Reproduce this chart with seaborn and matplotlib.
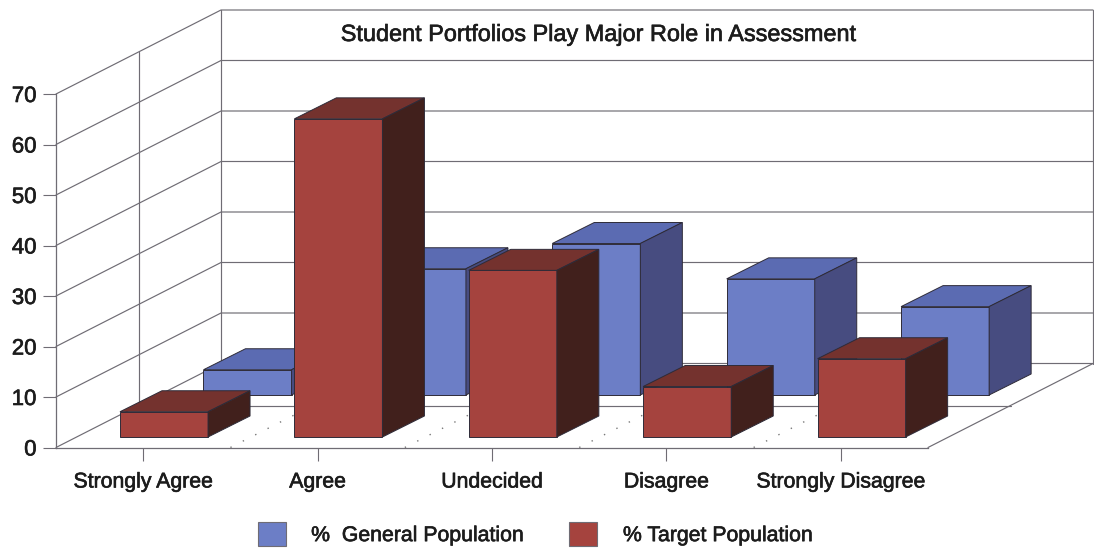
import matplotlib
matplotlib.use("Agg")
import matplotlib.pyplot as plt
import matplotlib.patheffects as pe
import seaborn as sns
from matplotlib.patches import Patch, Polygon
from matplotlib.transforms import Affine2D, IdentityTransform

title = "Student Portfolios Play Major Role in Assessment"
categories = ["Strongly Agree", "Agree", "Undecided", "Disagree", "Strongly Disagree"]
general_population = [5, 25, 30, 23, 17.5]
target_population = [5, 63, 33, 10, 15.5]
y_ticks = [0, 10, 20, 30, 40, 50, 60, 70]
series_labels = ["%  General Population", "% Target Population"]

W, H = 1094, 548
BLUE = ("#6C7EC6", "#5B6BB2", "#474C80")
RED = ("#A5433E", "#74322E", "#41201C")
LINE = "#6F6C74"
EDGE = "#2E2B38"
INK = "#1c1c1c"
HEAVY = [pe.withStroke(linewidth=0.45, foreground=INK)]

sns.set_theme(style="white", rc={"font.family": ["Liberation Sans", "DejaVu Sans"]})
fig = plt.figure(figsize=(W / 100, H / 100), dpi=100, facecolor="white")
ax = fig.add_axes([56 / W, (H - 447.5) / H, (928 - 56) / W, 353.5 / H])
ax.patch.set_alpha(0)

sns.barplot(x=categories, y=general_population, color=BLUE[0], saturation=1,
            width=0.505, ax=ax, edgecolor=EDGE, linewidth=0.7)
sns.barplot(x=categories, y=target_population, color=RED[0], saturation=1,
            width=0.505, ax=ax, edgecolor=EDGE, linewidth=0.7)
ax.set_xlim(-0.5, len(categories) - 0.5)
ax.set_ylim(y_ticks[0], y_ticks[-1])
ax.set_yticks(y_ticks)
ax.set_xlabel("")
ax.set_ylabel("")


def px(x, y, dx=0, dy=0):
    a, b = ax.transData.transform((x, y))
    return a + dx, b + dy


def line(points, z=1, **kw):
    xs, ys = zip(*points)
    kw.setdefault("color", LINE)
    kw.setdefault("lw", 0.85)
    ax.plot(xs, ys, transform=IdentityTransform(), clip_on=False, zorder=z, **kw)


DX, DY = 165, 84  # depth of the chart floor, in pixels
x0, x1 = ax.get_xlim()
ymax = y_ticks[-1]

# walls and floor
for v in y_ticks:
    line([px(x0, v), px(x0, v, DX, DY), px(x1, v, DX, DY)])
line([px(x0, 0, DX, DY), px(x0, ymax, DX, DY)])
line([px(x1, 0, DX, DY), px(x1, ymax, DX, DY)])
line([px(x0, 0, DX / 2, DY / 2), px(x0, ymax, DX / 2, DY / 2)])
line([px(x0, 0, DX / 2, DY / 2), px(x1, 0, DX / 2, DY / 2)])
line([px(x1, 0), px(x1, 0, DX, DY)])
for i in range(len(categories) - 1):
    line([px(i + 0.5, 0), px(i + 0.5, 0, DX / 2, DY / 2)],
         ls=(0, (1, 9)), lw=1.0, color="#777777")


def extrude(container, colors, dx, dy, z, depth=(42, 21)):
    shift = ax.transData + Affine2D().translate(dx, dy)
    for bar in container:
        bar.set_transform(shift)
        bar.set_clip_on(False)
        bar.set_zorder(z)
        left, right = bar.get_x(), bar.get_x() + bar.get_width()
        h = bar.get_height()
        ox, oy = dx + depth[0], dy + depth[1]
        top = [px(left, h, dx, dy), px(right, h, dx, dy),
               px(right, h, ox, oy), px(left, h, ox, oy)]
        side = [px(right, 0, dx, dy), px(right, 0, ox, oy),
                px(right, h, ox, oy), px(right, h, dx, dy)]
        for pts, c in ((top, colors[1]), (side, colors[2])):
            ax.add_patch(Polygon(pts, closed=True, facecolor=c, edgecolor=EDGE, lw=0.7,
                                 transform=IdentityTransform(), clip_on=False, zorder=z))


extrude(ax.containers[0], BLUE, 104.3, 52.5, 2)
extrude(ax.containers[1], RED, 20.8, 10.5, 3)

sns.despine(ax=ax)
for s in ("left", "bottom"):
    ax.spines[s].set_color(LINE)
    ax.spines[s].set_linewidth(0.9)
ax.tick_params(axis="x", length=9.5, width=0.8, color=LINE, pad=8.5, labelsize=15.3, labelcolor=INK, bottom=True)
ax.tick_params(axis="y", length=9.5, width=0.8, color=LINE, pad=4.5, labelsize=16, labelcolor=INK, left=True)
for t in ax.get_xticklabels() + ax.get_yticklabels():
    t.set_path_effects(HEAVY)

fig.text(599 / W, (H - 34.5) / H, title, ha="center", va="center", fontsize=16.9, color=INK,
         path_effects=HEAVY)

handles = [Patch(facecolor=BLUE[0], edgecolor=LINE, lw=0.8),
           Patch(facecolor=RED[0], edgecolor=LINE, lw=0.8)]
leg = fig.legend(handles, series_labels, ncol=2, frameon=False, loc="center",
                 bbox_to_anchor=(535 / W, (H - 534) / H), fontsize=15.3, labelcolor=INK,
                 handlelength=1.32, handleheight=1.32, handletextpad=1.2, columnspacing=2.16,
                 borderpad=0, borderaxespad=0)
for t in leg.get_texts():
    t.set_path_effects(HEAVY)

fig.savefig("out.png", dpi=100, facecolor="white")
